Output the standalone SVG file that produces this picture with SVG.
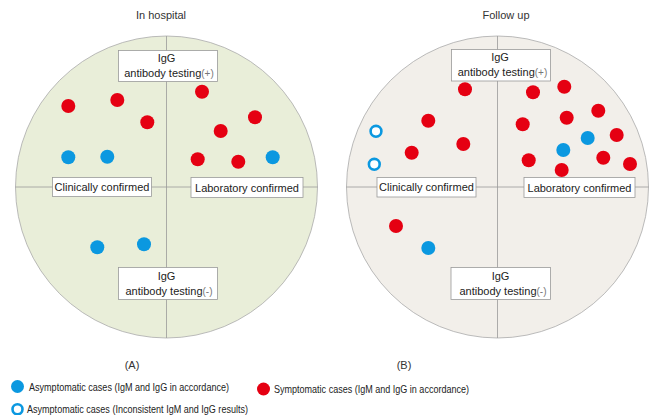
<svg xmlns="http://www.w3.org/2000/svg" width="649" height="415" viewBox="0 0 649 415">
<style>
text{font-family:"Liberation Sans",Arial,sans-serif;fill:#333}
.t{font-size:11px;text-anchor:middle}
.lbl{font-size:11px;text-anchor:middle;fill:#222}
.sm{font-size:10px;fill:#777}
.box{fill:#fff;stroke:#999;stroke-width:0.8}
.axis{stroke:#999;stroke-width:0.8;fill:none}
.r{fill:#e50012}
.b{fill:#0b98e0}
.o{fill:#fff;stroke:#0b98e0;stroke-width:2.6}
.lg{font-size:10.5px;fill:#222}
</style>
<rect width="649" height="415" fill="#fff"/>
<text class="t" x="161" y="19">In hospital</text>
<text class="t" x="506" y="19">Follow up</text>

<g id="panelA">
<circle cx="166.5" cy="187" r="151" fill="#e9eed9" stroke="#aaa" stroke-width="0.8"/>
<g id="axesA">
<line class="axis" x1="166.5" y1="36" x2="166.5" y2="338"/>
<line class="axis" x1="15.5" y1="187" x2="317.5" y2="187"/>
</g>
<g id="A-top"><rect class="box" x="118.5" y="50.5" width="99" height="31"/>
<text class="lbl" x="166.5" y="62">IgG</text>
<text class="lbl" x="169" y="77">antibody testing<tspan class="sm">(+)</tspan></text></g>
<g id="A-clin"><rect class="box" x="52.5" y="177.5" width="99" height="19"/>
<text class="lbl" x="102" y="191">Clinically confirmed</text></g>
<g id="A-lab"><rect class="box" x="191" y="177.5" width="112" height="20"/>
<text class="lbl" x="247" y="191.5">Laboratory confirmed</text></g>
<g id="A-bot"><rect class="box" x="118.5" y="267.5" width="99" height="32"/>
<text class="lbl" x="166.5" y="280">IgG</text>
<text class="lbl" x="169" y="295">antibody testing<tspan class="sm">(-)</tspan></text></g>
<g id="A-dots">
<circle class="r" cx="68.3" cy="106" r="7"/>
<circle class="r" cx="117.3" cy="100" r="7"/>
<circle class="r" cx="147.3" cy="122.3" r="7"/>
<circle class="b" cx="68.3" cy="157.3" r="7"/>
<circle class="b" cx="107.3" cy="156.7" r="7"/>
<circle class="r" cx="202" cy="91.7" r="7"/>
<circle class="r" cx="255" cy="117.3" r="7"/>
<circle class="r" cx="220.7" cy="131" r="7"/>
<circle class="r" cx="197.7" cy="159.3" r="7"/>
<circle class="r" cx="238.3" cy="161.7" r="7"/>
<circle class="b" cx="272.7" cy="157.3" r="7"/>
<circle class="b" cx="97.3" cy="247.3" r="7"/>
<circle class="b" cx="144" cy="244.3" r="7"/>
</g>
</g>

<g id="panelB">
<circle cx="497.5" cy="187" r="151" fill="#f2efea" stroke="#aaa" stroke-width="0.8"/>
<g id="axesB">
<line class="axis" x1="497.5" y1="36" x2="497.5" y2="338"/>
<line class="axis" x1="346.5" y1="187" x2="648.5" y2="187"/>
</g>
<g id="B-top"><rect class="box" x="451.5" y="49.5" width="99" height="31.5"/>
<text class="lbl" x="500" y="61">IgG</text>
<text class="lbl" x="502.5" y="76">antibody testing<tspan class="sm">(+)</tspan></text></g>
<g id="B-clin"><rect class="box" x="377" y="177.5" width="99" height="19.5"/>
<text class="lbl" x="426.5" y="191">Clinically confirmed</text></g>
<g id="B-lab"><rect class="box" x="524" y="177.5" width="111" height="20"/>
<text class="lbl" x="579.5" y="191.5">Laboratory confirmed</text></g>
<g id="B-bot"><rect class="box" x="451" y="267.5" width="99.5" height="32"/>
<text class="lbl" x="500.5" y="280">IgG</text>
<text class="lbl" x="503" y="295">antibody testing<tspan class="sm">(-)</tspan></text></g>
<g id="B-dots">
<circle class="r" cx="465" cy="89.3" r="7"/>
<circle class="r" cx="428.3" cy="120.7" r="7"/>
<circle class="r" cx="411.7" cy="152.7" r="7"/>
<circle class="r" cx="463.3" cy="144" r="7"/>
<circle class="o" cx="376" cy="131.3" r="5.4"/>
<circle class="o" cx="374.3" cy="164.3" r="5.4"/>
<circle class="r" cx="533" cy="92.3" r="7"/>
<circle class="r" cx="564.3" cy="86.7" r="7"/>
<circle class="r" cx="598.3" cy="110.7" r="7"/>
<circle class="r" cx="566.7" cy="117.7" r="7"/>
<circle class="r" cx="522.7" cy="124.3" r="7"/>
<circle class="b" cx="587.7" cy="138" r="7"/>
<circle class="r" cx="616.7" cy="135" r="7"/>
<circle class="b" cx="563.3" cy="150" r="7"/>
<circle class="r" cx="528.7" cy="160.3" r="7"/>
<circle class="r" cx="603.3" cy="157.7" r="7"/>
<circle class="r" cx="561.7" cy="170" r="7"/>
<circle class="r" cx="630" cy="164" r="7"/>
<circle class="r" cx="396" cy="226" r="7"/>
<circle class="b" cx="428.3" cy="248" r="7"/>
</g>
</g>

<text class="t" x="132" y="369">(A)</text>
<text class="t" x="404" y="369">(B)</text>

<g id="legend">
<circle class="b" cx="17.5" cy="386.5" r="6.5"/>
<text class="lg" x="29" y="390.5" textLength="200" lengthAdjust="spacingAndGlyphs">Asymptomatic cases (IgM and IgG in accordance)</text>
<circle class="r" cx="263.5" cy="389" r="6.5"/>
<text class="lg" x="274" y="393" textLength="195" lengthAdjust="spacingAndGlyphs">Symptomatic cases (IgM and IgG in accordance)</text>
<circle class="o" cx="17.5" cy="409.3" r="5"/>
<text class="lg" x="27" y="413" textLength="221" lengthAdjust="spacingAndGlyphs">Asymptomatic cases (Inconsistent IgM and IgG results)</text>
</g>
</svg>
